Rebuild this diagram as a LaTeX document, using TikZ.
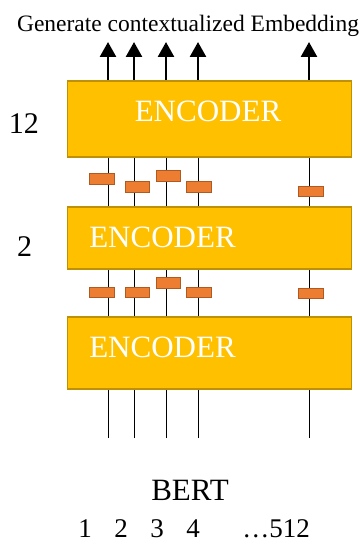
\documentclass[tikz,border=0pt]{standalone}
\usepackage{fontspec}
\setmainfont{Liberation Serif}
\usepackage{xcolor}
\usepackage{tikz}
\usetikzlibrary{calc, arrows.meta, positioning}

\definecolor{encfill}{HTML}{FFC000}
\definecolor{encline}{HTML}{BF9000}
\definecolor{tokfill}{HTML}{ED7D31}
\definecolor{tokline}{HTML}{AE5A21}

\begin{document}
\begin{tikzpicture}[x=1pt, y=-1pt, >={Triangle[width=16pt,length=15pt]},
    encoder/.style={draw=encline, fill=encfill, line width=1.6pt, minimum width=284pt, inner sep=0pt},
    token/.style={draw=tokline, fill=tokfill, line width=1.4pt, minimum width=24.5pt, minimum height=10.5pt, inner sep=0pt},
    enctext/.style={text=white, font=\fontsize{31}{31}\selectfont, inner sep=0pt},
    plain/.style={font=\fontsize{#1}{#1}\selectfont, inner sep=0pt},
    wire/.style={line width=0.9pt}]
    \useasboundingbox (0,0) rectangle (361,543);

    % 1. The three encoder blocks
    \node[encoder, minimum height=76.5pt] (enc12) at (209.5,119) {};
    \node[encoder, minimum height=62.5pt] (enc2) at (209.5,238) {};
    \node[encoder, minimum height=72.5pt] (enc1) at (209.5,353) {};
    \node[enctext] (t12) at (208,111) {ENCODER};
    \node[enctext] (t2) at (162.5,237) {ENCODER};
    \node[enctext] (t1) at (162.5,347) {ENCODER};

    % 2. Layer numbers and captions
    \node[plain=30] (l12) at (24,124) {12};
    \node[plain=30] (l2) at (24.5,247) {2};
    \node[plain=23.5] (title) at (188,26) {Generate contextualized Embedding};
    \node[plain=31] (bert) at (190,490) {BERT};
    \foreach \x/\t/\i in {85/1/1, 121/2/2, 157/3/3, 193/4/4, 276/{\dots512}/5} {
        \node[plain=27] (n\i) at (\x,529) {\t};
    }

    % 3. Token lines through the stack
    \foreach \x/\i in {108/1, 134/2, 166/3, 198/4, 309/5} {
        \coordinate (in\i) at (\x,438);
        \coordinate (out\i) at (\x,42);
    }
    \foreach \i in {1,...,5} {
        \draw[wire] (in\i) -- (in\i |- enc1.south);
        \draw[wire] (in\i |- enc1.north) -- (in\i |- enc2.south);
        \draw[wire] (in\i |- enc2.north) -- (in\i |- enc12.south);
        \draw[->, line width=2.6pt] (in\i |- enc12.north) -- (out\i);
    }

    % 4. Small token boxes between the blocks
    \foreach \x/\y/\i in {102/179/1, 137.5/187/2, 168.5/176/3, 199/187/4, 311/191.5/5} {
        \node[token] (up\i) at (\x,\y) {};
    }
    \foreach \x/\y/\i in {102/292.5/1, 137.5/292.5/2, 168.5/283/3, 199/292.5/4, 311/293.5/5} {
        \node[token] (lo\i) at (\x,\y) {};
    }
\end{tikzpicture}
\end{document}
